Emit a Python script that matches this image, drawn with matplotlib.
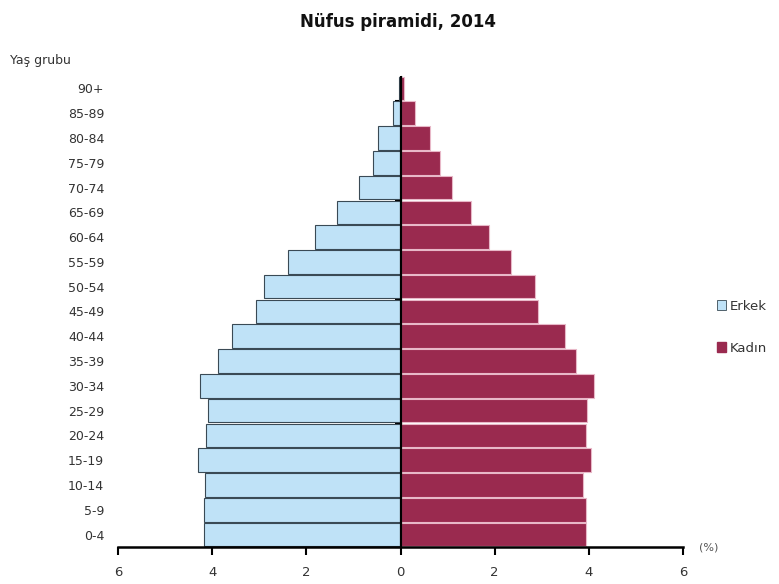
import numpy as np
import matplotlib
matplotlib.use("Agg")
import matplotlib.pyplot as plt
from matplotlib.patches import Patch

# yas gruplari, alttan uste
gruplar = ["0-4", "5-9", "10-14", "15-19", "20-24", "25-29", "30-34", "35-39",
           "40-44", "45-49", "50-54", "55-59", "60-64", "65-69", "70-74",
           "75-79", "80-84", "85-89", "90+"]
# yuzde degerler
erkek = [4.18, 4.18, 4.16, 4.31, 4.13, 4.09, 4.26, 3.88, 3.58, 3.08, 2.89,
         2.38, 1.82, 1.35, 0.88, 0.58, 0.47, 0.17, 0.04]
kadin = [3.93, 3.93, 3.88, 4.05, 3.93, 3.97, 4.10, 3.72, 3.50, 2.92, 2.85,
         2.35, 1.88, 1.50, 1.09, 0.83, 0.62, 0.30, 0.08]
xticks = [-6, -4, -2, 0, 2, 4, 6]
xlabels = ["6", "4", "2", "0", "2", "4", "6"]

mavi = "#bfe2f7"
bordo = "#9a2a4f"
yazi = "#333333"

fig = plt.figure(figsize=(7.79, 5.84), dpi=100)
ax = fig.add_axes([0.1515, 0.0634, 0.7253, 0.8065])

y = np.arange(len(gruplar))
ax.barh(y, -np.array(erkek), height=0.95, color=mavi, edgecolor="#3a4a55", linewidth=0.8)
ax.barh(y, kadin, height=0.95, color=bordo, edgecolor="#e8b8c8", linewidth=0.8)

ax.set_xlim(-6, 6)
ax.set_ylim(-0.5, len(gruplar) - 0.5)
ax.axvline(0, color="black", linewidth=1.6)

ax.set_yticks(y, gruplar, fontsize=9, color=yazi)
ax.tick_params(axis="y", length=0, pad=10)
ax.set_xticks(xticks, xlabels, fontsize=9.5, color=yazi)
ax.tick_params(axis="x", direction="out", length=6, width=1.5, pad=8)

for s in ["top", "right", "left"]:
    ax.spines[s].set_visible(False)
ax.spines["bottom"].set_linewidth(1.8)

# orta eksendeki kucuk cizgiler
orta = ax.secondary_yaxis(0.5)
orta.set_yticks(np.arange(len(gruplar)) - 0.5, [""] * len(gruplar))
orta.tick_params(length=4, width=1.5, color="black", direction="in")
orta.spines["left"].set_visible(False)

fig.text(0.511, 0.962, "Nüfus piramidi, 2014", ha="center", va="center",
         fontsize=12, fontweight="bold", color="#111111")
fig.text(0.013, 0.897, "Yaş grubu", ha="left", va="center", fontsize=9, color=yazi)
fig.text(0.897, 0.062, "(%)", ha="left", va="center", fontsize=8, color="#555555")

handles = [Patch(facecolor=mavi, edgecolor="#3a4a55", linewidth=0.6, label="Erkek"),
           Patch(facecolor=bordo, edgecolor=bordo, label="Kadın")]
fig.legend(handles=handles, loc="center left", bbox_to_anchor=(0.905, 0.44),
           frameon=False, fontsize=9.5, handlelength=0.7, handleheight=0.7,
           handletextpad=0.3, labelspacing=2.2, labelcolor=yazi)

fig.savefig("out.png", dpi=100)
